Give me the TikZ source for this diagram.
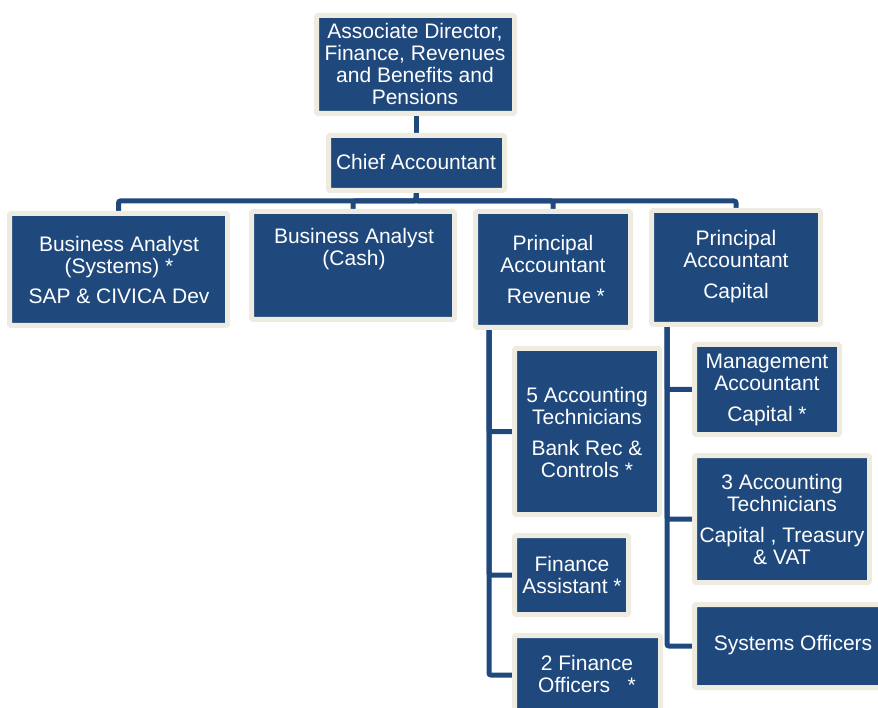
\documentclass[tikz,border=0pt]{standalone}
\usepackage{fontspec}
\setmainfont{Liberation Sans}
\usetikzlibrary{backgrounds}
\definecolor{boxblue}{HTML}{1F497D}
\definecolor{boxrim}{HTML}{EEECE1}
\tikzset{
  orgbox/.style={draw=boxrim, fill=boxblue, line width=5pt, inner sep=0pt, rounded corners=1.5pt},
  orgtext/.style={text=white, align=center, inner sep=0pt, font=\fontsize{21}{22}\selectfont},
  conn/.style={draw=boxblue, line width=5pt, rounded corners=2pt}
}
% box macro: name, x1, y1, x2, y2 (outer edges, px, y downward)
\newcommand{\obox}[5]{%
  \pgfmathsetmacro{\bw}{#4-#2-5}\pgfmathsetmacro{\bh}{#5-#3-5}%
  \node[orgbox, minimum width=\bw pt, minimum height=\bh pt] (#1) at ({(#2+#4)/2},{(#3+#5)/2}) {};}
\begin{document}
\begin{tikzpicture}[x=1pt, y=-1pt]
\useasboundingbox (0,0) rectangle (878,708);
\clip (0,0) rectangle (878,708);

\obox{top}{314}{13}{517}{116}
\obox{chief}{326}{133}{507}{193}
\obox{bas}{7}{211}{230}{328}
\obox{cash}{249}{209}{457}{322}
\obox{rev}{473}{209}{633}{330}
\obox{cap}{649}{208}{823}{327}
\obox{fat}{512}{346}{662}{517}
\obox{fa}{512}{533}{631}{617}
\obox{ffo}{512}{633}{663}{717}
\obox{ma}{692}{342}{842}{437}
\obox{tat}{692}{453}{872}{585}
\obox{so}{692}{602}{905}{690}

\node[orgtext] (top-t) at (415,64) {Associate Director,\\Finance, Revenues\\and Benefits and\\Pensions};
\node[orgtext] (chief-t) at (416,162) {Chief Accountant};
\node[orgtext] (bas-t) at (119,270) {Business Analyst\\(Systems) *\\[8pt]SAP \& CIVICA Dev};
\node[orgtext] (cash-t) at (354,249) {Business Analyst\\(Cash)};
\node[orgtext] (rev-t) at (553,269) {Principal\\Accountant\\[9pt]\ Revenue *};
\node[orgtext] (cap-t) at (736,267) {Principal\\Accountant\\[9pt]Capital};
\node[orgtext] (fat-t) at (587,432) {5 Accounting\\Technicians\\[9pt]Bank Rec \&\\Controls *};
\node[orgtext] (fa-t) at (572,575) {Finance\\Assistant *};
\node[orgtext] (ffo-t) at (587,674) {2 Finance\\Officers\ \ \ *};
\node[orgtext] (ma-t) at (767,390) {Management\\Accountant\\[9pt]Capital *};
\node[orgtext] (tat-t) at (782,519) {3 Accounting\\Technicians\\[9pt]Capital , Treasury\\\& VAT};
\node[orgtext] (so-t) at (793,645) {Systems Officers};

\begin{scope}[on background layer]
  \draw[conn] (chief.north) -- (chief.north |- top.south);
  \coordinate (bus) at (416,201);
  \draw[conn] (chief.south) -- (bus) -| (bas.north);
  \draw[conn] (chief.south) -- (bus) -| (cash.north);
  \draw[conn] (chief.south) -- (bus) -| (rev.north);
  \draw[conn] (chief.south) -- (bus) -| (cap.north);
  \draw[conn] (rev.south west) ++(16,0) |- (fat.west);
  \draw[conn] (rev.south west) ++(16,0) |- (fa.west);
  \draw[conn] (rev.south west) ++(16,0) |- (ffo.west);
  \draw[conn] (cap.south west) ++(18,0) |- (ma.west);
  \draw[conn] (cap.south west) ++(18,0) |- (tat.west);
  \draw[conn] (cap.south west) ++(18,0) |- (so.west);
\end{scope}
\end{tikzpicture}
\end{document}
